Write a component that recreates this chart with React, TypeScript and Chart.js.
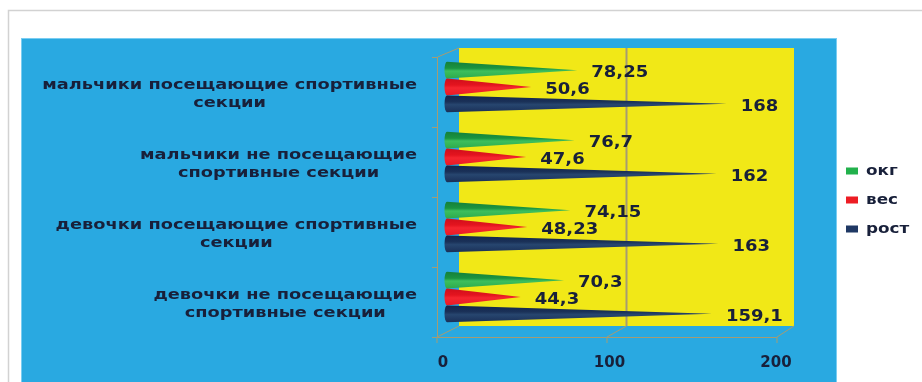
import React, { useEffect, useRef } from "react";
import { Chart, registerables } from "chart.js";

Chart.register(...registerables);

// Category labels (one array per label, one string per line)
const categories: string[][] = [
  ["мальчики посещающие спортивные", "секции"],
  ["мальчики не посещающие", "спортивные секции"],
  ["девочки посещающие спортивные", "секции"],
  ["девочки не посещающие", "спортивные секции"],
];

const seriesNames = ["окг", "вес", "рост"];
const okgValues = [78.25, 76.7, 74.15, 70.3];
const vesValues = [50.6, 47.6, 48.23, 44.3];
const rostValues = [168, 162, 163, 159.1];
const axisMin = 0;
const axisMax = 200;
const axisStep = 100;

const seriesColors = ["#22b14c", "#ed1c24", "#1f3864"];
// vertical shading of each cone: top -> bottom
const coneShades: string[][] = [
  ["#15803a", "#1a9340", "#3dbf5d", "#2daa4c"],
  ["#cf0f1c", "#e3141f", "#f5252f", "#e81b26"],
  ["#14264c", "#1a3158", "#27466f", "#1a3058"],
];

const INK = "#18203a";
const FONT = '"DejaVu Sans", sans-serif';
const PANEL_BLUE = "#29a9e1";
const WALL_YELLOW = "#f1e817";
const WALL_LINE = "#a69c72";

function stretchedText(
  ctx: CanvasRenderingContext2D,
  text: string,
  x: number,
  y: number,
  sx: number,
  align: "left" | "center" | "right"
) {
  const w = ctx.measureText(text).width * sx;
  let left = x;
  if (align === "center") left = x - w / 2;
  else if (align === "right") left = x - w;
  ctx.save();
  ctx.translate(left, y);
  ctx.scale(sx, 1);
  ctx.textAlign = "left";
  ctx.fillText(text, 0, 0);
  ctx.restore();
}

function formatValue(v: number): string {
  return String(v).replace(".", ",");
}

// geometry of the pseudo-3D box around the plot area
function boxPlanes(a: { left: number; right: number; top: number; bottom: number }) {
  const back = { l: a.left + 12, r: a.right + 14, t: a.top - 4, b: a.bottom - 6 };
  const front = { l: a.left - 10, r: a.right - 3, t: a.top + 5, b: a.bottom + 5 };
  return { back, front };
}

const backdropPlugin = {
  id: "backdrop",
  beforeDraw(chart: any) {
    const { ctx, chartArea: a, scales } = chart;
    const W = chart.width;
    const H = chart.height;
    const xs = scales.x;
    const { back, front } = boxPlanes(a);

    ctx.save();
    ctx.fillStyle = "#ffffff";
    ctx.fillRect(0, 0, W, H);

    // outer frame
    ctx.strokeStyle = "#d2d2d2";
    ctx.lineWidth = 1.5;
    ctx.beginPath();
    ctx.moveTo(8.5, H);
    ctx.lineTo(8.5, 10.5);
    ctx.lineTo(W, 10.5);
    ctx.stroke();

    // chart panel
    ctx.fillStyle = PANEL_BLUE;
    ctx.fillRect(21, 38, 816, H - 38);
    ctx.strokeStyle = "#79cdf2";
    ctx.lineWidth = 1;
    ctx.strokeRect(21.5, 38.5, 815, H);

    // back wall
    ctx.fillStyle = WALL_YELLOW;
    ctx.fillRect(back.l, back.t, back.r - back.l, back.b - back.t);

    const frac = (v: number) => (xs.getPixelForValue(v) - a.left) / a.width;
    ctx.strokeStyle = WALL_LINE;
    for (let v = axisMin; v <= axisMax; v += axisStep) {
      const bx = back.l + frac(v) * (back.r - back.l);
      const fx = front.l + frac(v) * (front.r - front.l);
      if (v > axisMin && v < axisMax) {
        ctx.lineWidth = 2;
        ctx.beginPath();
        ctx.moveTo(bx, back.t);
        ctx.lineTo(bx, back.b);
        ctx.stroke();
      }
      ctx.lineWidth = 1;
      ctx.beginPath();
      ctx.moveTo(fx, front.b + 6);
      ctx.lineTo(fx, front.b);
      ctx.lineTo(bx, back.b);
      ctx.stroke();
    }

    // floor front edge and left wall edge
    ctx.lineWidth = 1;
    ctx.beginPath();
    ctx.moveTo(front.r, front.b + 0.5);
    ctx.lineTo(front.l + 0.5, front.b + 0.5);
    ctx.lineTo(front.l + 0.5, front.t);
    ctx.lineTo(back.l, back.t);
    ctx.stroke();

    const n = chart.data.labels.length;
    for (let i = 0; i <= n; i++) {
      const y = Math.round(front.t + (i * (front.b - front.t)) / n) + 0.5;
      ctx.beginPath();
      ctx.moveTo(front.l - 5, y);
      ctx.lineTo(front.l, y);
      ctx.stroke();
    }
    ctx.restore();
  },
};

const conePlugin = {
  id: "cones",
  beforeDatasetDraw() {
    return false;
  },
  afterDatasetsDraw(chart: any) {
    const { ctx } = chart;
    ctx.save();
    chart.data.datasets.forEach((ds: any, di: number) => {
      const meta = chart.getDatasetMeta(di);
      meta.data.forEach((el: any) => {
        const { x, y, base, height } = el.getProps(["x", "y", "base", "height"], true);
        const h = height / 2;
        const g = ctx.createLinearGradient(0, y - h, 0, y + h);
        const sh = coneShades[di];
        g.addColorStop(0, sh[0]);
        g.addColorStop(0.38, sh[1]);
        g.addColorStop(0.55, sh[2]);
        g.addColorStop(1, sh[3]);
        ctx.fillStyle = g;
        ctx.beginPath();
        ctx.moveTo(base, y - h);
        ctx.lineTo(x, y);
        ctx.lineTo(base, y + h);
        ctx.ellipse(base, y, 2.5, h, 0, Math.PI / 2, (3 * Math.PI) / 2);
        ctx.closePath();
        ctx.fill();
      });
    });

    // value labels
    ctx.fillStyle = INK;
    ctx.font = `bold 15px ${FONT}`;
    ctx.textBaseline = "middle";
    chart.data.datasets.forEach((ds: any, di: number) => {
      const meta = chart.getDatasetMeta(di);
      meta.data.forEach((el: any, i: number) => {
        const { x, y } = el.getProps(["x", "y"], true);
        stretchedText(ctx, formatValue(ds.data[i]), x + 14, y + 3, 1.2, "left");
      });
    });
    ctx.restore();
  },
};

const labelsPlugin = {
  id: "categoryLabelsAndLegend",
  afterDraw(chart: any) {
    const { ctx, chartArea: a, scales } = chart;
    const ys = scales.y;
    const { front } = boxPlanes(a);
    ctx.save();
    ctx.fillStyle = INK;
    ctx.textBaseline = "middle";

    // category labels: block right-aligned, lines centred within it
    ctx.font = `bold 14px ${FONT}`;
    const sx = 1.27;
    const lineH = 18;
    const right = front.l - 20;
    chart.data.labels.forEach((lines: string[], i: number) => {
      const cy = ys.getPixelForValue(i) + 7;
      const maxW = Math.max(...lines.map((t) => ctx.measureText(t).width * sx));
      const cx = right - maxW / 2;
      lines.forEach((t, j) => {
        stretchedText(ctx, t, cx, cy + (j - (lines.length - 1) / 2) * lineH, sx, "center");
      });
    });

    // legend
    ctx.font = `bold 14px ${FONT}`;
    chart.data.datasets.forEach((ds: any, di: number) => {
      const cy = 171 + di * 29;
      ctx.fillStyle = ds.backgroundColor;
      ctx.fillRect(846, cy - 3.5, 12, 7);
      ctx.fillStyle = INK;
      stretchedText(ctx, ds.label, 866, cy, 1.2, "left");
    });
    ctx.restore();
  },
};

export default function App() {
  const canvasRef = useRef<HTMLCanvasElement | null>(null);

  useEffect(() => {
    const canvas = canvasRef.current;
    if (!canvas) return;
    const seriesValues = [okgValues, vesValues, rostValues];
    const chart = new Chart(canvas, {
      type: "bar",
      data: {
        labels: categories,
        datasets: seriesNames.map((name, i) => ({
          label: name,
          data: seriesValues[i],
          backgroundColor: seriesColors[i],
          categoryPercentage: 0.72,
          barPercentage: 1,
        })),
      },
      options: {
        indexAxis: "y",
        animation: false,
        responsive: false,
        maintainAspectRatio: false,
        layout: { padding: { left: 447, right: 142, top: 52, bottom: 10 } },
        scales: {
          x: {
            min: axisMin,
            max: axisMax,
            grid: { display: false, drawTicks: false },
            border: { display: false },
            ticks: {
              stepSize: axisStep,
              padding: 22,
              labelOffset: -4,
              color: INK,
              font: { family: FONT, size: 15, weight: "bold" },
            },
            afterFit: (s: any) => {
              s.height = 40;
            },
          },
          y: { display: false },
        },
        plugins: {
          legend: { display: false },
          tooltip: { enabled: false },
        },
      },
      plugins: [backdropPlugin, conePlugin, labelsPlugin],
    } as any);
    return () => chart.destroy();
  }, []);

  return (
    <div style={{ position: "fixed", left: 0, top: 0, width: 922, height: 382 }}>
      <canvas ref={canvasRef} width={922} height={382} style={{ display: "block" }} />
    </div>
  );
}
